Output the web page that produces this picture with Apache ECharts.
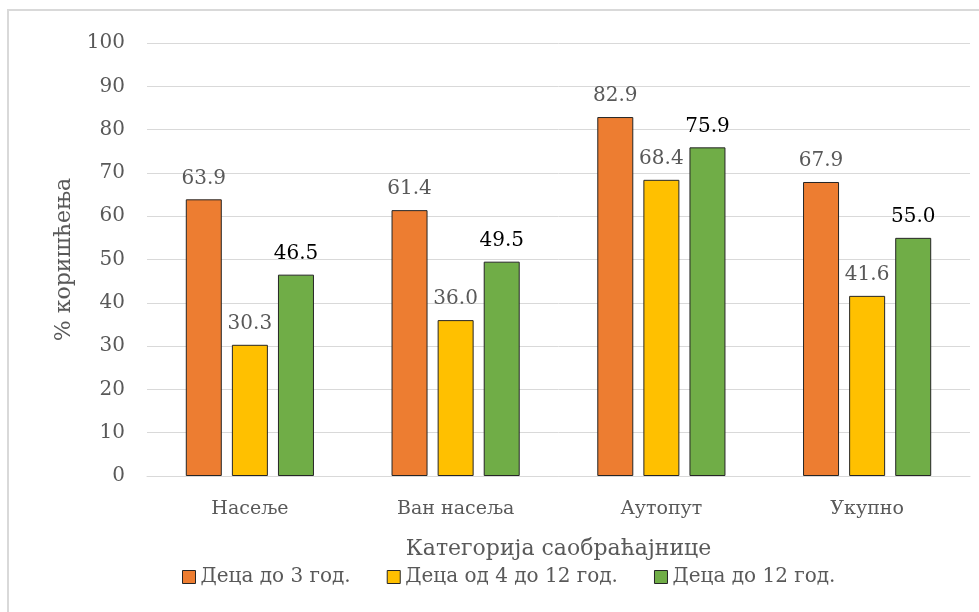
<!DOCTYPE html>
<html>
<head>
<meta charset="utf-8">
<script src="https://cdn.jsdelivr.net/npm/echarts@6/dist/echarts.min.js"></script>
<style>
  html, body { margin: 0; padding: 0; background: #fff; }
  #chart { width: 979px; height: 612px; }
</style>
</head>
<body>
<div id="chart"></div>
<script>
// категорије и вредности
var categories = ['Насеље', 'Ван насеља', 'Аутопут', 'Укупно'];
var seriesNames = ['Деца до 3 год.', 'Деца од 4 до 12 год.', 'Деца до 12 год.'];
var under3 = [63.9, 61.4, 82.9, 67.9];
var from4to12 = [30.3, 36.0, 68.4, 41.6];
var under12 = [46.5, 49.5, 75.9, 55.0];
var yTicks = [0, 10, 20, 30, 40, 50, 60, 70, 80, 90, 100];

var FONT = 'DejaVu Serif';
var colors = ['#ED7D31', '#FFC000', '#70AD47'];
var labelColors = ['#595959', '#595959', '#000000'];

function bar(name, data, idx) {
    return {
        name: name,
        type: 'bar',
        data: data,
        barWidth: 36,
        barGap: '28%',
        itemStyle: {
            color: colors[idx],
            borderColor: '#262626',
            borderWidth: 1
        },
        label: {
            show: true,
            position: 'top',
            distance: 11,
            formatter: function (p) { return p.value.toFixed(1); },
            fontFamily: FONT,
            fontWeight: 'normal',
            fontSize: 20,
            color: labelColors[idx]
        }
    };
}

var myChart = echarts.init(document.getElementById('chart'));
var option = {
    animation: false,
    textStyle: { fontFamily: FONT },
    graphic: [{
        type: 'rect',
        shape: { x: 8, y: 10, width: 1000, height: 700 },
        style: { fill: 'none', stroke: '#d9d9d9', lineWidth: 2 },
        silent: true
    }],
    grid: {
        left: 147,
        right: 9,
        top: 43,
        bottom: 136
    },
    legend: {
        bottom: 20,
        left: 177,
        itemWidth: 13,
        itemHeight: 13,
        itemGap: 36,
        icon: 'rect',
        itemStyle: { borderColor: '#262626', borderWidth: 1 },
        textStyle: { fontFamily: FONT, fontSize: 20, color: '#595959' },
        data: seriesNames
    },
    xAxis: {
        type: 'category',
        data: categories,
        name: 'Категорија саобраћајнице',
        nameLocation: 'middle',
        nameGap: 62,
        nameTextStyle: { fontFamily: FONT, fontSize: 22, color: '#595959' },
        axisLine: { lineStyle: { color: '#d9d9d9', width: 1 } },
        axisTick: { show: false },
        axisLabel: { margin: 24, fontFamily: FONT, fontSize: 19, color: '#595959' }
    },
    yAxis: {
        type: 'value',
        min: yTicks[0],
        max: yTicks[yTicks.length - 1],
        interval: 10,
        name: '% коришћења',
        nameLocation: 'middle',
        nameGap: 72,
        nameTextStyle: { fontFamily: FONT, fontSize: 22, color: '#595959' },
        axisLine: { show: false },
        axisTick: { show: false },
        splitLine: { lineStyle: { color: '#d9d9d9', width: 1 } },
        axisLabel: { margin: 22, fontFamily: FONT, fontSize: 20, color: '#595959' }
    },
    series: [
        bar(seriesNames[0], under3, 0),
        bar(seriesNames[1], from4to12, 1),
        bar(seriesNames[2], under12, 2)
    ]
};
myChart.setOption(option);
</script>
</body>
</html>
